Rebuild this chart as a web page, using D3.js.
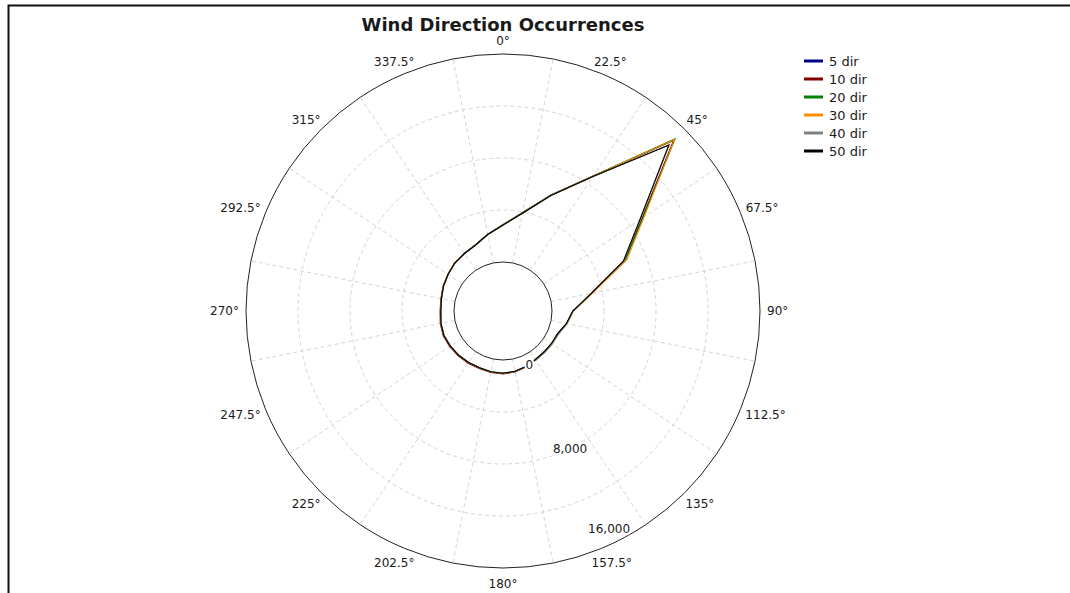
<!DOCTYPE html>
<html>
<head>
<meta charset="utf-8">
<script src="https://cdn.jsdelivr.net/npm/d3@7"></script>
<style>
  body { margin: 0; background: #fff; }
  text { font-family: "DejaVu Sans", "Liberation Sans", sans-serif; fill: #1a1a1a; }
</style>
</head>
<body>
<svg id="mainsvg" width="1070" height="593"></svg>
<script>
// bearings of the sampled directions (degrees, clockwise from north)
const directions = [0, 11.25, 22.5, 33.75, 45, 56.25, 67.5, 78.75, 90, 101.25, 112.5, 123.75,
  135, 146.25, 157.5, 168.75, 180, 191.25, 202.5, 213.75, 225, 236.25, 247.5, 258.75,
  270, 281.25, 292.5, 303.75, 315, 326.25, 337.5, 348.75];

const seriesNames = ['5 dir', '10 dir', '20 dir', '30 dir', '40 dir', '50 dir'];
const seriesColors = ['#000080', '#800000', '#008000', '#ff8c00', '#808080', '#000000'];

const dir5  = [2870,3950,5900,8720,14850,9150,6380,3180,1620,1230,800,740,700,730,860,970,1030,1010,960,1010,1060,1110,1160,1110,1030,1070,1200,1320,1470,1570,1750,2250];
const dir10 = [2840,3920,5860,8690,14800,9120,6360,3170,1610,1210,790,730,720,760,900,1010,1080,1060,1010,1060,1100,1160,1210,1150,1070,1100,1220,1330,1480,1560,1740,2240];
const dir20 = [2860,3930,5880,8730,14950,9200,6400,3190,1620,1220,790,730,700,720,850,970,1030,1000,960,1000,1050,1100,1150,1100,1020,1060,1190,1310,1460,1560,1740,2240];
const dir30 = [2850,3910,5870,8700,14880,9300,6550,3260,1650,1240,820,760,720,740,870,980,1040,1010,960,1010,1060,1110,1160,1110,1030,1070,1200,1320,1470,1560,1740,2240];
const dir40 = [2830,3880,5840,8660,14350,8950,6300,3170,1630,1260,860,800,760,770,880,970,1020,990,950,990,1040,1090,1140,1090,1010,1050,1180,1300,1450,1540,1720,2220];
const dir50 = [2850,3900,5850,8680,14250,8900,6250,3150,1600,1200,780,720,690,720,850,960,1020,1000,950,1000,1050,1100,1150,1100,1020,1060,1190,1310,1460,1550,1730,2230];

const angleTicks = [0, 22.5, 45, 67.5, 90, 112.5, 135, 157.5, 180, 202.5, 225, 247.5, 270, 292.5, 315, 337.5];
const radialTicks = [0, 8000, 16000];
const radialGrid = [4000, 8000, 12000];

const series = [dir5, dir10, dir20, dir30, dir40, dir50];

const svg = d3.select('#mainsvg');
const width = +svg.attr('width');
const height = +svg.attr('height');
const cx = 503, cy = 311;
const outerR = 257, innerR = 49;
const rad = d => d * Math.PI / 180;

// frame (only top and left edges show in the picture)
svg.append('rect')
  .attr('x', 8.5).attr('y', 5.5)
  .attr('width', width + 20).attr('height', height + 20)
  .attr('fill', 'none').attr('stroke', '#111').attr('stroke-width', 2);

svg.append('text')
  .attr('x', cx).attr('y', 31)
  .attr('text-anchor', 'middle')
  .attr('font-size', 18).attr('font-weight', 'bold')
  .text('Wind Direction Occurrences');

const r = d3.scaleLinear().domain([0, 16000]).range([innerR, outerR]);

const g = svg.append('g').attr('transform', `translate(${cx},${cy})`);

// dashed grid circles
g.selectAll('.grid-circle').data(radialGrid).join('circle')
  .attr('r', d => r(d))
  .attr('fill', 'none').attr('stroke', '#d4d4d4').attr('stroke-dasharray', '4,3');

// dashed spokes, offset half a sector from the labels
g.selectAll('.spoke').data(d3.range(11.25, 360, 22.5)).join('line')
  .attr('x1', d => innerR * Math.sin(rad(d))).attr('y1', d => -innerR * Math.cos(rad(d)))
  .attr('x2', d => outerR * Math.sin(rad(d))).attr('y2', d => -outerR * Math.cos(rad(d)))
  .attr('stroke', '#d4d4d4').attr('stroke-dasharray', '4,3');

g.append('circle').attr('r', outerR).attr('fill', 'none').attr('stroke', '#222');
g.append('circle').attr('r', innerR).attr('fill', 'none').attr('stroke', '#222');

// data lines
const line = d3.lineRadial()
  .angle((d, i) => rad(directions[i]))
  .radius(d => r(d))
  .curve(d3.curveLinearClosed);

g.selectAll('.series').data(series).join('path')
  .attr('d', line)
  .attr('fill', 'none')
  .attr('stroke', (d, i) => seriesColors[i])
  .attr('stroke-width', 1.1);

// angular labels
g.selectAll('.alabel').data(angleTicks).join('text')
  .attr('font-size', 12)
  .attr('text-anchor', 'middle')
  .attr('dominant-baseline', 'central')
  .text(d => d + '°')
  .each(function (d) {
    const w = this.getComputedTextLength();
    const s = Math.sin(rad(d)), c = Math.cos(rad(d));
    const rr = outerR + 7;
    d3.select(this)
      .attr('x', rr * s + (w / 2) * s)
      .attr('y', -rr * c - (c > 0 ? 6 : 8.5) * c);
  });

// radial labels
const labelAngle = rad(154);
g.selectAll('.rlabel').data(radialTicks).join('text')
  .attr('font-size', 12)
  .attr('text-anchor', 'middle')
  .attr('dominant-baseline', 'central')
  .attr('stroke', '#fff').attr('stroke-width', 4).attr('paint-order', 'stroke')
  .text(d => d3.format(',')(d))
  .each(function (d) {
    const rr = Math.max(innerR + 11, Math.min(outerR - 15, r(d)));
    d3.select(this)
      .attr('x', rr * Math.sin(labelAngle))
      .attr('y', -rr * Math.cos(labelAngle));
  });

// legend
const legend = svg.append('g').attr('transform', 'translate(804,61)');
const item = legend.selectAll('g').data(seriesNames).join('g')
  .attr('transform', (d, i) => `translate(0,${i * 18})`);
item.append('line')
  .attr('x1', 0).attr('x2', 19)
  .attr('stroke', (d, i) => seriesColors[i]).attr('stroke-width', 3);
item.append('text')
  .attr('x', 25).attr('dominant-baseline', 'central')
  .attr('font-size', 13)
  .text(d => d);
</script>
</body>
</html>
